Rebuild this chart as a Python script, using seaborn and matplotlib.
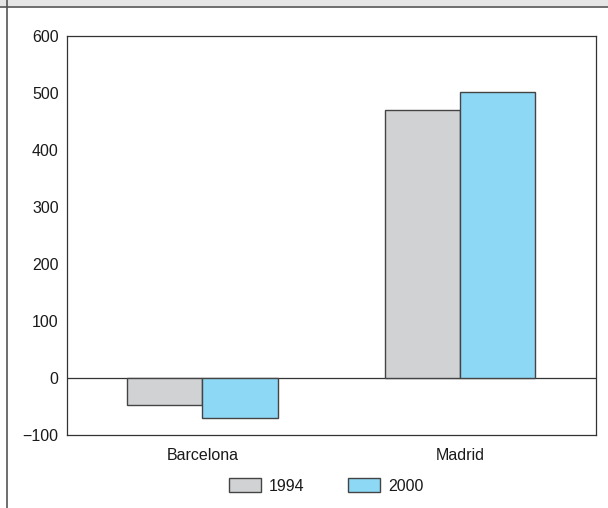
import matplotlib
matplotlib.use("Agg")
import matplotlib.pyplot as plt
from matplotlib.patches import Rectangle
from matplotlib.lines import Line2D
import pandas as pd
import seaborn as sns

cities = ["Barcelona", "Madrid"]
years = ["1994", "2000"]
values_1994 = [-48, 470]
values_2000 = [-71, 501]
yticks = [-100, 0, 100, 200, 300, 400, 500, 600]
colors = ["#d1d2d4", "#8dd8f5"]

df = pd.DataFrame({
    "city": cities * 2,
    "year": [years[0]] * 2 + [years[1]] * 2,
    "value": values_1994 + values_2000,
})

sns.set_theme(style="white")
plt.rcParams["font.family"] = ["Liberation Sans", "DejaVu Sans"]

fig = plt.figure(figsize=(6.08, 5.08), dpi=100)
ax = fig.add_axes([67 / 608, 1 - 435 / 508, 529 / 608, 399 / 508])

sns.barplot(data=df, x="city", y="value", hue="year", palette=colors,
            width=0.586, edgecolor="#444444", linewidth=1.0, saturation=1,
            ax=ax, legend=False, errorbar=None)

ax.axhline(0, color="#333333", linewidth=0.9, zorder=0.5)
ax.set_xlim(-0.526, 1.528)
ax.set_ylim(-100, 600)
ax.set_yticks(yticks)
ax.set_yticklabels([str(t).replace("-", "\u2212") for t in yticks])
ax.set_xlabel("")
ax.set_ylabel("")
for s in ax.spines.values():
    s.set_color("#333333")
    s.set_linewidth(0.9)
ax.tick_params(axis="y", length=0, labelsize=11.5, pad=6)
ax.tick_params(axis="x", length=0, labelsize=11.5, pad=9)
for lbl in ax.get_xticklabels() + ax.get_yticklabels():
    lbl.set_color("#1a1a1a")

handles = [Rectangle((0, 0), 1, 1, facecolor=c, edgecolor="#444444", linewidth=1.0)
           for c in colors]
fig.legend(handles, years, loc="center", bbox_to_anchor=(326 / 608, 1 - 486 / 508),
           ncol=2, frameon=False, fontsize=11.5, handlelength=2.0, handleheight=0.9,
           columnspacing=2.75, handletextpad=0.5, labelcolor="#1a1a1a")

# page frame: grey header strip and left rule
fig.patches.append(Rectangle((0, 1 - 6 / 508), 1, 6 / 508, transform=fig.transFigure,
                             facecolor="#e6e6e7", edgecolor="none"))
fig.lines.append(Line2D([0, 1], [1 - 6.5 / 508] * 2, transform=fig.transFigure,
                        color="#555555", linewidth=1.2))
fig.lines.append(Line2D([6.5 / 608] * 2, [0, 1], transform=fig.transFigure,
                        color="#555555", linewidth=1.2))

fig.savefig("out.png", dpi=100)
